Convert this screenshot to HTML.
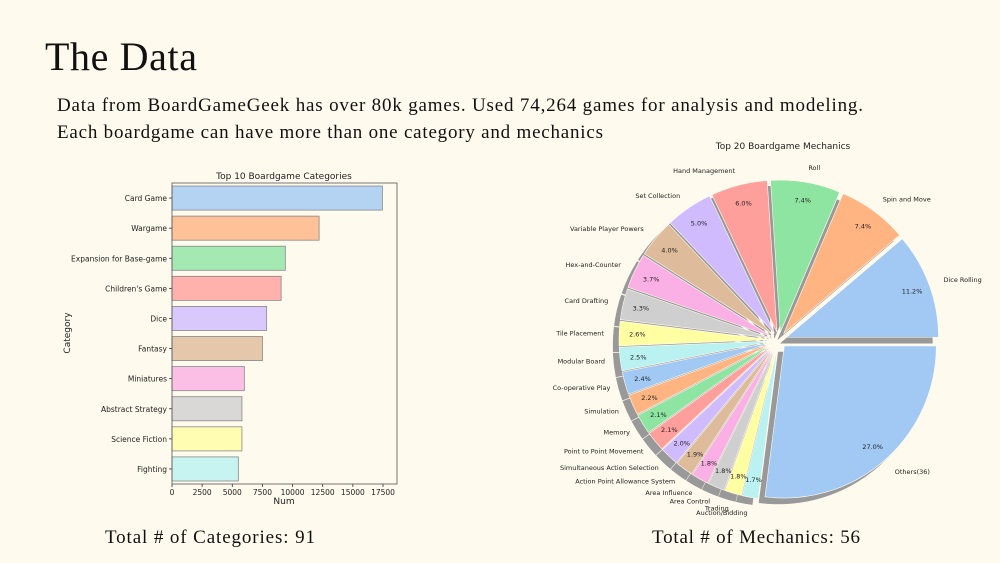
<!DOCTYPE html>
<html><head><meta charset="utf-8"><style>
html,body{margin:0;padding:0;background:#fffaee;}
svg{display:block;}
.serif{font-family:"Liberation Serif",serif;fill:#111;}
.sans{font-family:"DejaVu Sans","Liberation Sans",sans-serif;fill:#222;}
</style></head><body>
<svg id="root" width="1000" height="563" viewBox="0 0 1000 563" xmlns="http://www.w3.org/2000/svg">
<rect width="1000" height="563" fill="#fffaee"/>
<text class="serif" x="45" y="70" font-size="40" textLength="152">The Data</text>
<text class="serif" x="57" y="111" font-size="19" textLength="806">Data from BoardGameGeek has over 80k games. Used 74,264 games for analysis and modeling.</text>
<text class="serif" x="57" y="138" font-size="19" textLength="546">Each boardgame can have more than one category and mechanics</text>
<text class="serif" x="105" y="543" font-size="19" textLength="210">Total # of Categories: 91</text>
<text class="serif" x="652" y="543" font-size="19" textLength="208">Total # of Mechanics: 56</text>
<g id="bar"></g>
<g id="pie"></g>
</svg>
<script>
const barCategories = ["Card Game","Wargame","Expansion for Base-game","Children's Game","Dice","Fantasy","Miniatures","Abstract Strategy","Science Fiction","Fighting"];
const barValues = [17450,12200,9400,9050,7850,7500,6000,5800,5800,5500];
const xTicks = [0,2500,5000,7500,10000,12500,15000,17500];
const pieLabels = ["Dice Rolling","Spin and Move","Roll","Hand Management","Set Collection","Variable Player Powers","Hex-and-Counter","Card Drafting","Tile Placement","Modular Board","Co-operative Play","Simulation","Memory","Point to Point Movement","Simultaneous Action Selection","Action Point Allowance System","Area Influence","Area Control","Trading","Auction/Bidding","Others(36)"];
const pieValues = [11.2,7.4,7.4,6.0,5.0,4.0,3.7,3.3,2.6,2.5,2.4,2.2,2.1,2.1,2.0,1.9,1.8,1.8,1.8,1.7,27.0];
const palette = ["#a1c9f4","#ffb482","#8de5a1","#ff9f9b","#d0bbff","#debb9b","#fab0e4","#cfcfcf","#fffea3","#b9f2f0"];
const NS="http://www.w3.org/2000/svg";
function mk(tag,attrs,parent,txt){const e=document.createElementNS(NS,tag);for(const k in attrs)e.setAttribute(k,attrs[k]);if(txt!==undefined)e.textContent=txt;parent.appendChild(e);return e;}

// Bar chart
const bar=document.getElementById('bar');
const L=172,R=397,T=183,B=484;
const xs=v=>L+v*(211/17500);
const band=(B-T)/barCategories.length;
const ys=i=>T+band*i;
let t=mk('text',{x:284,y:179,'font-size':9,'text-anchor':'middle',class:'sans'},bar,'Top 10 Boardgame Categories');


barCategories.forEach((c,i)=>{
  const r=mk('rect',{x:L,y:ys(i)+band*0.1,width:xs(barValues[i])-L,height:band*0.8,fill:palette[i%10],'fill-opacity':0.8,stroke:'#888','stroke-width':0.8},bar);
  
  
  mk('line',{x1:L-3,x2:L,y1:ys(i)+band/2,y2:ys(i)+band/2,stroke:'#333','stroke-width':0.8},bar);
  const lb=mk('text',{x:L-5,y:ys(i)+band/2+3,'font-size':7.5,'text-anchor':'end',class:'sans'},bar,c);
  
  
});
const frame=mk('rect',{x:L,y:T,width:R-L,height:B-T,fill:'none',stroke:'#555','stroke-width':0.8},bar);


xTicks.forEach(v=>{
  mk('line',{x1:xs(v),x2:xs(v),y1:B,y2:B+3,stroke:'#333','stroke-width':0.8},bar);
  const lb=mk('text',{x:xs(v),y:B+11,'font-size':7.5,'text-anchor':'middle',class:'sans'},bar,String(v));
  
  
});
t=mk('text',{x:284,y:504,'font-size':9,'text-anchor':'middle',class:'sans'},bar,'Num');


t=mk('text',{x:0,y:0,'font-size':9,'text-anchor':'middle',class:'sans',transform:'translate(70,333) rotate(-90)'},bar,'Category');



// Pie chart
const pie=document.getElementById('pie');
const cx=779,cy=340,rad=152,ex=8;
t=mk('text',{x:783,y:149,'font-size':9,'text-anchor':'middle',class:'sans'},pie,'Top 20 Boardgame Mechanics');


const total=pieValues.reduce((a,b)=>a+b,0);
const wedges=[];let a0=0;
pieValues.forEach((v,i)=>{const a1=a0+v/total*360;wedges.push([a0,a1]);a0=a1;});
const P=(x,y,r,a)=>[x+r*Math.cos(a*Math.PI/180),y-r*Math.sin(a*Math.PI/180)];
function wpath(x,y,a0,a1){const p0=P(x,y,rad,a0),p1=P(x,y,rad,a1);const large=(a1-a0)>180?1:0;
  return `M${x},${y} L${p0[0]},${p0[1]} A${rad},${rad} 0 ${large} 0 ${p1[0]},${p1[1]} Z`;}
const shadowG=mk('g',{},pie);


wedges.forEach(([a,b],i)=>{const m=(a+b)/2;const o=P(cx,cy,ex,m);
  mk('path',{d:wpath(o[0]-6,o[1]+6,a,b),fill:'#999',stroke:'#999','stroke-width':0.5},shadowG);});
wedges.forEach(([a,b],i)=>{const m=(a+b)/2;const o=P(cx,cy,ex,m);
  const w=mk('path',{d:wpath(o[0],o[1],a,b),fill:palette[i%10],stroke:'#fffaee','stroke-width':0.6},pie);
  
  
  const pp=P(cx,cy,rad*0.88+ex,m);
  const pt=mk('text',{x:pp[0],y:pp[1]+2.5,'font-size':6.5,'text-anchor':'middle',class:'sans'},pie,pieValues[i].toFixed(1)+'%');
  
  
  const lp=P(cx,cy,rad*1.1+ex,m);
  const c=Math.cos(m*Math.PI/180);
  const lt=mk('text',{x:lp[0],y:lp[1]+2.5,'font-size':6.5,'text-anchor':c>0.01?'start':(c<-0.01?'end':'middle'),class:'sans'},pie,pieLabels[i]);
  
  
});
</script>
</body></html>
